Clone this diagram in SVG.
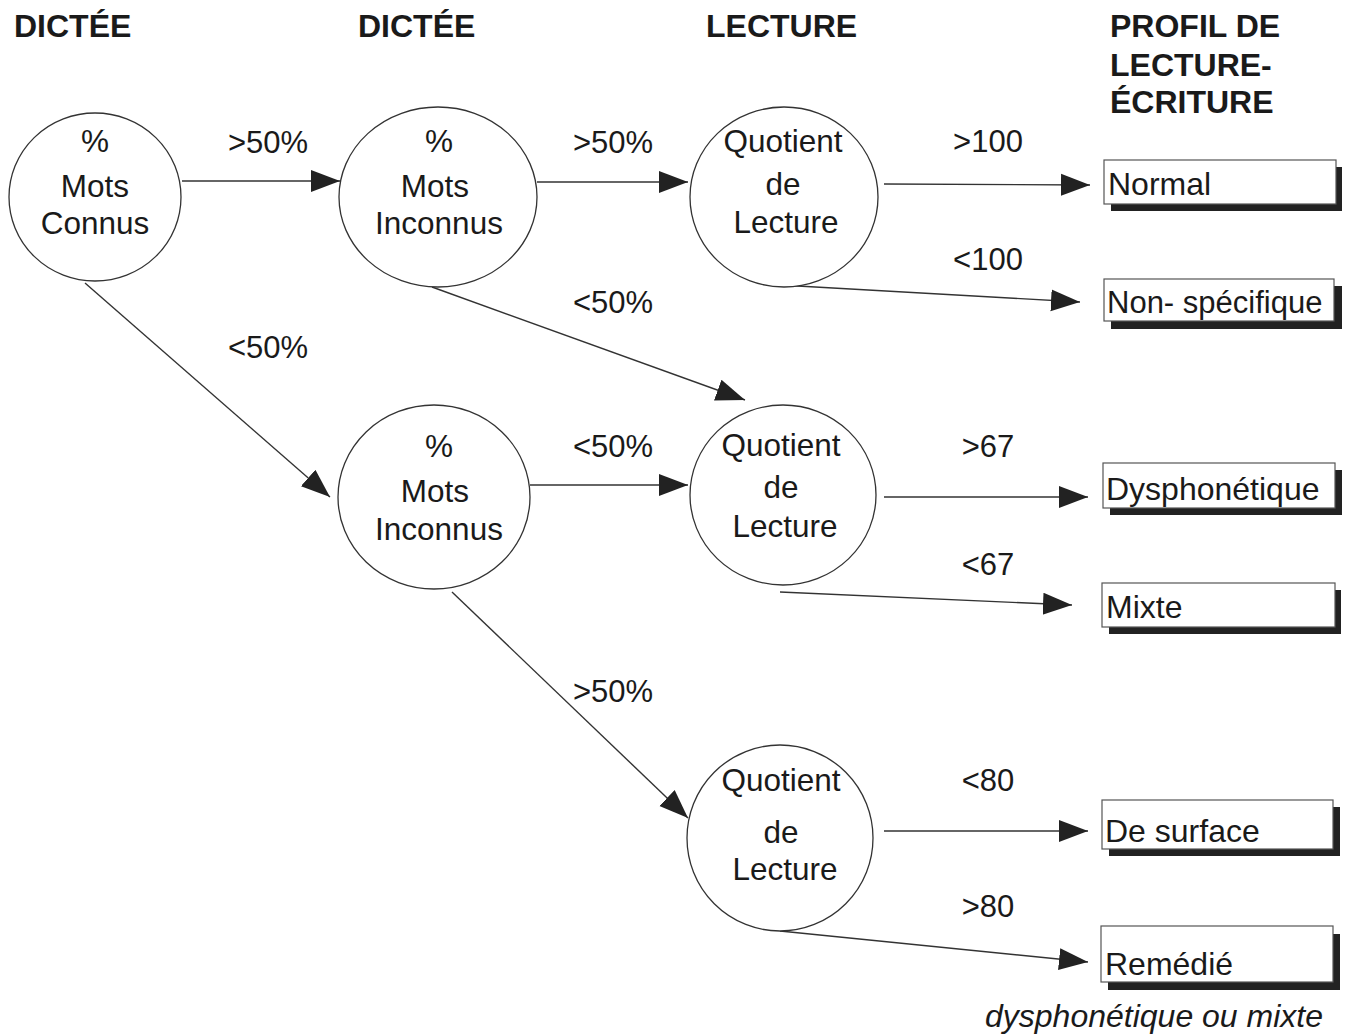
<svg xmlns="http://www.w3.org/2000/svg" width="1350" height="1036" viewBox="0 0 1350 1036">
<style>
text { font-family: "Liberation Sans", Arial, sans-serif; fill: #1a1a1a; }
.hdr { font-size: 32px; font-weight: bold; }
.node { font-size: 31.5px; text-anchor: middle; }
.lbl { font-size: 31px; text-anchor: middle; }
.box { font-size: 32px; }
.note { font-size: 32px; font-style: italic; }
.circ { fill: #fff; stroke: #333; stroke-width: 1.3; }
.edge { fill: none; stroke: #333; stroke-width: 1.4; marker-end: url(#ah); }
.shadow { fill: #222; }
.frame { fill: #fff; stroke: #555; stroke-width: 1.2; }
</style>
<defs>
<marker id="ah" markerUnits="userSpaceOnUse" markerWidth="30" markerHeight="24" refX="29" refY="11" orient="auto" viewBox="0 0 30 22">
<path d="M0,0 L29,11 L0,22 z" fill="#222"/>
</marker>
</defs>
<rect width="1350" height="1036" fill="#fff"/>

<g id="headers">
<text class="hdr" x="14" y="37">DICTÉE</text>
<text class="hdr" x="358" y="37">DICTÉE</text>
<text class="hdr" x="706" y="37">LECTURE</text>
<text class="hdr" x="1110" y="37">PROFIL DE</text>
<text class="hdr" x="1110" y="76">LECTURE-</text>
<text class="hdr" x="1110" y="113">ÉCRITURE</text>
</g>

<g id="connectors">
<path class="edge" d="M182,181 L340,181"/>
<path class="edge" d="M537,182 L688,182"/>
<path class="edge" d="M884,184 L1090,185"/>
<path class="edge" d="M780,285 L1080,302"/>
<path class="edge" d="M432,287 L745,400"/>
<path class="edge" d="M85,283 L330,497"/>
<path class="edge" d="M530,485 L688,485"/>
<path class="edge" d="M884,497 L1088,497"/>
<path class="edge" d="M780,592 L1072,605"/>
<path class="edge" d="M452,592 L688,818"/>
<path class="edge" d="M884,831 L1088,831"/>
<path class="edge" d="M780,931 L1088,962"/>
</g>

<g id="edge-labels">
<text class="lbl" x="268" y="153">&gt;50%</text>
<text class="lbl" x="268" y="358">&lt;50%</text>
<text class="lbl" x="613" y="153">&gt;50%</text>
<text class="lbl" x="613" y="313">&lt;50%</text>
<text class="lbl" x="613" y="457">&lt;50%</text>
<text class="lbl" x="613" y="702">&gt;50%</text>
<text class="lbl" x="988" y="152">&gt;100</text>
<text class="lbl" x="988" y="270">&lt;100</text>
<text class="lbl" x="988" y="457">&gt;67</text>
<text class="lbl" x="988" y="575">&lt;67</text>
<text class="lbl" x="988" y="791">&lt;80</text>
<text class="lbl" x="988" y="917">&gt;80</text>
</g>

<g id="n-connus">
<ellipse class="circ" cx="95" cy="197" rx="86" ry="84"/>
<text class="node" x="95" y="152">%</text>
<text class="node" x="95" y="197">Mots</text>
<text class="node" x="95" y="234">Connus</text>
</g>
<g id="n-inconnus1">
<ellipse class="circ" cx="438" cy="197" rx="99" ry="90"/>
<text class="node" x="439" y="152">%</text>
<text class="node" x="435" y="197">Mots</text>
<text class="node" x="439" y="234">Inconnus</text>
</g>
<g id="n-quotient1">
<ellipse class="circ" cx="784" cy="197" rx="94" ry="90"/>
<text class="node" x="783" y="152">Quotient</text>
<text class="node" x="783" y="195">de</text>
<text class="node" x="786" y="233">Lecture</text>
</g>
<g id="n-inconnus2">
<ellipse class="circ" cx="434" cy="497" rx="96" ry="92"/>
<text class="node" x="439" y="457">%</text>
<text class="node" x="435" y="502">Mots</text>
<text class="node" x="439" y="540">Inconnus</text>
</g>
<g id="n-quotient2">
<ellipse class="circ" cx="783" cy="495" rx="93" ry="90"/>
<text class="node" x="781" y="456">Quotient</text>
<text class="node" x="781" y="498">de</text>
<text class="node" x="785" y="537">Lecture</text>
</g>
<g id="n-quotient3">
<ellipse class="circ" cx="780" cy="838" rx="93" ry="93"/>
<text class="node" x="781" y="791">Quotient</text>
<text class="node" x="781" y="843">de</text>
<text class="node" x="785" y="880">Lecture</text>
</g>

<g id="b-normal">
<rect class="shadow" x="1111" y="167" width="231" height="44"/>
<rect class="frame" x="1104" y="160" width="232" height="44"/>
<text class="box" x="1108" y="195">Normal</text>
</g>
<g id="b-nonspecifique">
<rect class="shadow" x="1111" y="286" width="231" height="43"/>
<rect class="frame" x="1104" y="279" width="230" height="42"/>
<text class="box" x="1107" y="313" style="font-size:31px">Non- spécifique</text>
</g>
<g id="b-dysphonetique">
<rect class="shadow" x="1110" y="470" width="232" height="45"/>
<rect class="frame" x="1103" y="463" width="232" height="45"/>
<text class="box" x="1106" y="500">Dysphonétique</text>
</g>
<g id="b-mixte">
<rect class="shadow" x="1109" y="590" width="232" height="44"/>
<rect class="frame" x="1102" y="583" width="233" height="44"/>
<text class="box" x="1106" y="618">Mixte</text>
</g>
<g id="b-desurface">
<rect class="shadow" x="1109" y="807" width="231" height="49"/>
<rect class="frame" x="1102" y="800" width="231" height="49"/>
<text class="box" x="1105" y="842">De surface</text>
</g>
<g id="b-remedie">
<rect class="shadow" x="1108" y="934" width="232" height="56"/>
<rect class="frame" x="1101" y="926" width="232" height="56"/>
<text class="box" x="1105" y="975">Remédié</text>
</g>

<text class="note" x="1323" y="1027" text-anchor="end">dysphonétique ou mixte</text>
</svg>
